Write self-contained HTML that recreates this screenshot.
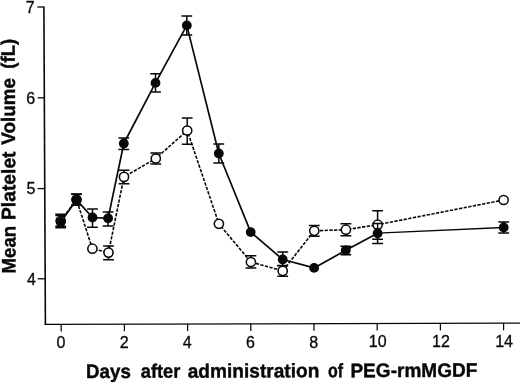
<!DOCTYPE html>
<html><head><meta charset="utf-8"><title>Mean Platelet Volume</title>
<style>
html,body{margin:0;padding:0;background:#fff;}
body{width:520px;height:383px;overflow:hidden;}
svg{display:block;}
text{font-family:"Liberation Sans",Arial,Helvetica,sans-serif;fill:#080808;}
.t{font-size:16px;stroke:#080808;stroke-width:0.3px;}
.b{font-size:19.5px;font-weight:bold;stroke:#080808;stroke-width:0.4px;}
</style></head><body>
<svg width="520" height="383" viewBox="0 0 520 383">
<rect width="520" height="383" fill="#fff"/>
<g stroke="#080808" stroke-width="1.6" fill="none" stroke-linecap="butt">
<path d="M43.9 6.4 L45.4 324.9"/>
<path stroke-width="1.25" d="M44.6 324.3 L520 323.2"/>
<path stroke-width="1.3" d="M37.3 7 L44 7"/>
<path stroke-width="1.3" d="M37.6 97.85 L44.8 97.85"/>
<path stroke-width="1.3" d="M37.6 188.6 L44.8 188.6"/>
<path stroke-width="1.3" d="M37.6 278.8 L44.8 278.8"/>
<path stroke-width="1.25" d="M61.2 324.3 L61.2 331.4"/>
<path stroke-width="1.25" d="M124.4 324.1 L124.4 331.2"/>
<path stroke-width="1.25" d="M187.6 324.0 L187.6 331.1"/>
<path stroke-width="1.25" d="M250.8 323.8 L250.8 330.9"/>
<path stroke-width="1.25" d="M314.0 323.7 L314.0 330.8"/>
<path stroke-width="1.25" d="M377.2 323.5 L377.2 330.6"/>
<path stroke-width="1.25" d="M440.4 323.3 L440.4 330.4"/>
<path stroke-width="1.25" d="M503.6 323.2 L503.6 330.3"/>
</g>
<polyline fill="none" stroke="#080808" stroke-width="1.6" stroke-dasharray="3.3 1.4" points="60.7,220.8 76.5,199.6 92.4,248.7 108.5,252.6 124.0,176.9 155.8,158.5 187.2,130.5 218.9,223.8 250.9,262.0 282.7,270.9 314.3,230.8 345.9,229.7 377.6,224.7 503.6,200.0"/>
<polyline fill="none" stroke="#080808" stroke-width="1.7" stroke-linejoin="round" points="60.7,222.0 76.5,199.9 92.5,217.5 108.1,218.3 123.8,143.5 155.5,82.9 186.8,25.4 218.8,153.5 250.7,232.1 282.7,259.5 314.1,267.9 345.8,250.3 377.6,233.2"/>
<polyline fill="none" stroke="#080808" stroke-width="1.35" points="377.6,233.2 503.7,227.5"/>
<g stroke="#080808" stroke-width="1.5" fill="none">
<path d="M60.7 215.4 L60.7 226.3 M55.3 215.4 L66.1 215.4 M55.3 226.3 L66.1 226.3"/>
<path d="M76.5 194.0 L76.5 205.0 M71.1 194.0 L81.9 194.0 M71.1 205.0 L81.9 205.0"/>
<path d="M108.5 246.0 L108.5 259.8 M103.1 246.0 L113.9 246.0 M103.1 259.8 L113.9 259.8"/>
<path d="M124.0 170.2 L124.0 183.8 M118.6 170.2 L129.4 170.2 M118.6 183.8 L129.4 183.8"/>
<path d="M155.8 152.9 L155.8 164.1 M150.4 152.9 L161.2 152.9 M150.4 164.1 L161.2 164.1"/>
<path d="M187.2 118.0 L187.2 144.3 M181.8 118.0 L192.6 118.0 M181.8 144.3 L192.6 144.3"/>
<path d="M250.9 255.8 L250.9 268.0 M245.5 255.8 L256.3 255.8 M245.5 268.0 L256.3 268.0"/>
<path d="M282.7 265.4 L282.7 276.3 M277.3 265.4 L288.1 265.4 M277.3 276.3 L288.1 276.3"/>
<path d="M314.3 225.5 L314.3 236.3 M308.9 225.5 L319.7 225.5 M308.9 236.3 L319.7 236.3"/>
<path d="M345.9 223.8 L345.9 235.7 M340.5 223.8 L351.3 223.8 M340.5 235.7 L351.3 235.7"/>
<path d="M377.6 210.7 L377.6 239.3 M372.2 210.7 L383.0 210.7 M372.2 239.3 L383.0 239.3"/>
</g>
<g fill="#fff" stroke="#080808" stroke-width="1.55">
<circle cx="60.7" cy="220.8" r="4.6"/>
<circle cx="76.5" cy="199.6" r="4.6"/>
<circle cx="92.4" cy="248.7" r="4.6"/>
<circle cx="108.5" cy="252.6" r="4.6"/>
<circle cx="124.0" cy="176.9" r="4.6"/>
<circle cx="155.8" cy="158.5" r="4.6"/>
<circle cx="187.2" cy="130.5" r="4.6"/>
<circle cx="218.9" cy="223.8" r="4.6"/>
<circle cx="250.9" cy="262.0" r="4.6"/>
<circle cx="282.7" cy="270.9" r="4.6"/>
<circle cx="314.3" cy="230.8" r="4.6"/>
<circle cx="345.9" cy="229.7" r="4.6"/>
<circle cx="377.6" cy="224.7" r="4.6"/>
<circle cx="503.6" cy="200.0" r="4.6"/>
</g>
<g stroke="#080808" stroke-width="1.5" fill="none">
<path d="M60.7 214.2 L60.7 227.8 M55.3 214.2 L66.1 214.2 M55.3 227.8 L66.1 227.8"/>
<path d="M76.5 194.2 L76.5 205.3 M71.1 194.2 L81.9 194.2 M71.1 205.3 L81.9 205.3"/>
<path d="M92.5 209.0 L92.5 227.2 M87.1 209.0 L97.9 209.0 M87.1 227.2 L97.9 227.2"/>
<path d="M108.1 212.0 L108.1 225.9 M102.7 212.0 L113.5 212.0 M102.7 225.9 L113.5 225.9"/>
<path d="M123.8 138.0 L123.8 149.4 M118.4 138.0 L129.2 138.0 M118.4 149.4 L129.2 149.4"/>
<path d="M155.5 73.8 L155.5 91.9 M150.1 73.8 L160.9 73.8 M150.1 91.9 L160.9 91.9"/>
<path d="M186.8 16.0 L186.8 34.9 M181.4 16.0 L192.2 16.0 M181.4 34.9 L192.2 34.9"/>
<path d="M218.8 144.1 L218.8 162.9 M213.4 144.1 L224.2 144.1 M213.4 162.9 L224.2 162.9"/>
<path d="M282.7 252.1 L282.7 265.8 M277.3 252.1 L288.1 252.1 M277.3 265.8 L288.1 265.8"/>
<path d="M345.8 246.2 L345.8 254.8 M340.4 246.2 L351.2 246.2 M340.4 254.8 L351.2 254.8"/>
<path d="M377.6 223.6 L377.6 243.5 M372.2 223.6 L383.0 223.6 M372.2 243.5 L383.0 243.5"/>
<path d="M503.7 222.1 L503.7 233.0 M498.3 222.1 L509.1 222.1 M498.3 233.0 L509.1 233.0"/>
</g>
<g fill="#080808">
<circle cx="60.7" cy="222.0" r="4.9"/>
<circle cx="76.5" cy="199.9" r="4.9"/>
<circle cx="92.5" cy="217.5" r="4.9"/>
<circle cx="108.1" cy="218.3" r="4.9"/>
<circle cx="123.8" cy="143.5" r="4.9"/>
<circle cx="155.5" cy="82.9" r="4.9"/>
<circle cx="186.8" cy="25.4" r="4.9"/>
<circle cx="218.8" cy="153.5" r="4.9"/>
<circle cx="250.7" cy="232.1" r="4.9"/>
<circle cx="282.7" cy="259.5" r="4.9"/>
<circle cx="314.1" cy="267.9" r="4.9"/>
<circle cx="345.8" cy="250.3" r="4.9"/>
<circle cx="377.6" cy="233.2" r="4.9"/>
<circle cx="503.7" cy="227.5" r="4.9"/>
</g>
<text class="t" x="34.70" y="12.7" text-anchor="end">7</text>
<text class="t" x="35.10" y="103.5" text-anchor="end">6</text>
<text class="t" x="35.50" y="194.3" text-anchor="end">5</text>
<text class="t" x="35.90" y="284.5" text-anchor="end">4</text>
<text class="t" x="60.9" y="348.30" text-anchor="middle">0</text>
<text class="t" x="124.1" y="348.10" text-anchor="middle">2</text>
<text class="t" x="187.3" y="347.90" text-anchor="middle">4</text>
<text class="t" x="250.5" y="347.70" text-anchor="middle">6</text>
<text class="t" x="313.7" y="347.50" text-anchor="middle">8</text>
<text class="t" x="377.7" y="347.30" text-anchor="middle">10</text>
<text class="t" x="440.9" y="347.10" text-anchor="middle">12</text>
<text class="t" x="504.1" y="346.90" text-anchor="middle">14</text>
<text class="b" y="378" transform="rotate(-0.18 87 378)"><tspan x="86.04" textLength="44.81" lengthAdjust="spacingAndGlyphs">Days</tspan> <tspan x="140.80" textLength="39.61" lengthAdjust="spacingAndGlyphs">after</tspan> <tspan x="187.70" textLength="131.69" lengthAdjust="spacingAndGlyphs">administration</tspan> <tspan x="328.00" textLength="15.09" lengthAdjust="spacingAndGlyphs">of</tspan> <tspan x="350.42" textLength="126.99" lengthAdjust="spacingAndGlyphs">PEG-rmMGDF</tspan></text>
<text class="b" transform="translate(14.6 0) rotate(-90.2)" y="0"><tspan x="-273.45" textLength="47.52" lengthAdjust="spacingAndGlyphs">Mean</tspan> <tspan x="-219.99" textLength="68.49" lengthAdjust="spacingAndGlyphs">Platelet</tspan> <tspan x="-144.80" textLength="66.85" lengthAdjust="spacingAndGlyphs">Volume</tspan> <tspan x="-68.80" textLength="30.07" lengthAdjust="spacingAndGlyphs">(fL)</tspan></text>
</svg></body></html>
